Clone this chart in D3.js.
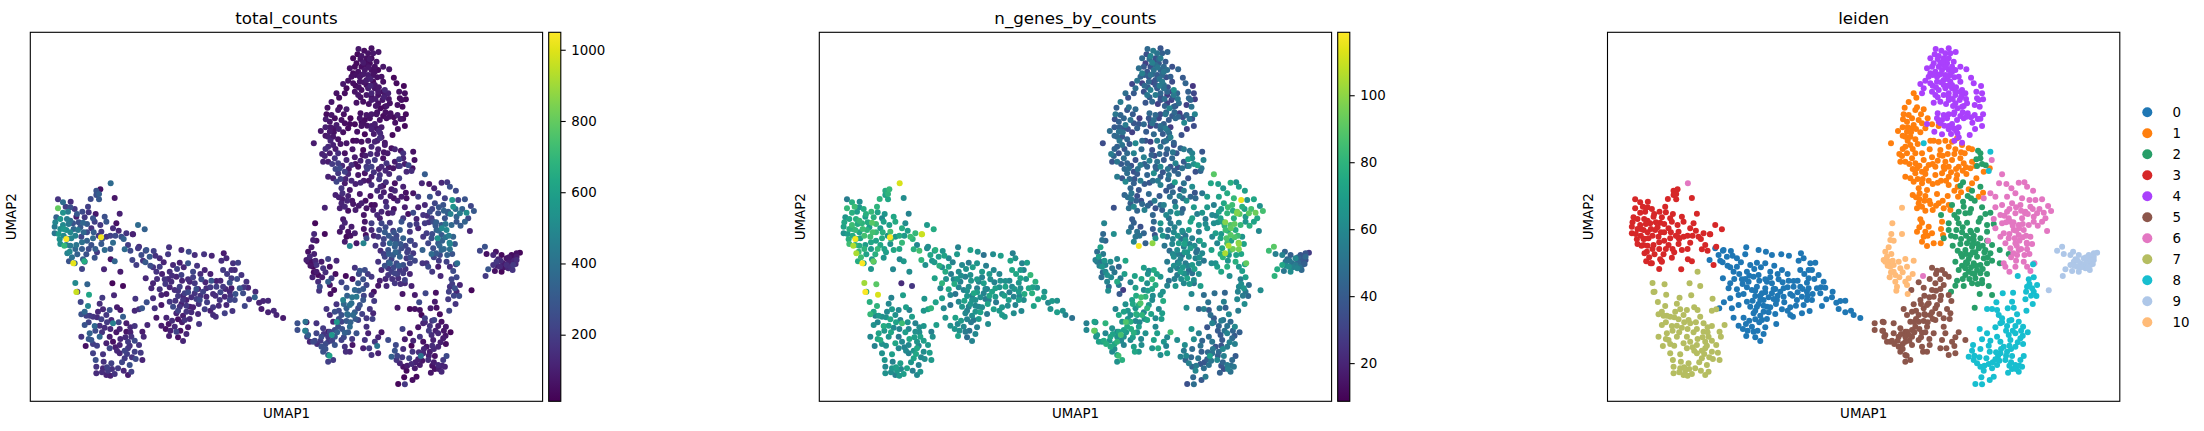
<!DOCTYPE html>
<html><head><meta charset="utf-8">
<style>html,body{margin:0;padding:0;background:#fff}svg{display:block}text{font-family:"DejaVu Sans";fill:#000}</style>
<script src="https://cdn.jsdelivr.net/npm/d3@7/dist/d3.min.js"></script>
</head><body><svg id="c" width="2204" height="431"></svg>
<script>
const cluster0=[[323,648,190,60],[348,653,280,78],[370,656,210,66],[416,645,160,58],[453,653,130,72],[475,658,240,64],[493,668,150,50],[521,666,170,62],[544,670,120,70],[580,663,90,56],[413,666,180,68],[333,668,250,74],[358,673,300,70],[306,683,220,80],[338,685,170,66],[388,678,140,60],[573,685,150,73],[588,678,130,64],[623,691,210,70],[608,693,160,58],[388,703,190,72],[428,698,130,60],[473,693,280,66],[448,691,110,54],[378,718,170,76],[418,718,150,62],[488,718,230,68],[523,713,120,60],[578,713,190,74],[613,713,140,58],[633,728,170,82],[453,728,210,64],[346,738,130,72],[403,741,170,60],[438,733,120,56],[473,741,150,68],[513,741,240,62],[603,738,190,72],[368,753,120,80],[423,748,140,58],[493,753,180,70],[558,746,110,64],[598,751,260,66],[648,748,170,78],[363,768,130,60],[388,771,160,74],[448,763,200,62],[473,768,110,56],[528,768,150,70],[578,763,180,60],[628,768,290,74],[653,766,120,64],[408,785,90,52],[368,798,150,70],[393,788,110,60],[443,791,190,66],[493,783,170,58],[518,778,210,72],[548,785,140,62],[598,778,130,68],[638,783,250,78],[675,778,140,66],[349,810,260,72],[418,808,180,60],[468,803,120,64],[508,803,240,56],[568,803,170,70],[613,803,230,62],[656,801,170,74],[673,795,330,70],[686,811,110,60],[713,805,130,64],[698,806,120,68],[335,828,290,80],[373,828,160,60],[393,818,80,52],[448,823,170,58],[488,825,110,62],[548,825,180,66],[588,818,130,58],[643,821,230,72],[523,831,200,70],[693,830,90,64],[438,843,120,60],[468,838,170,66],[503,845,130,54],[548,848,140,68],[583,843,210,62],[606,836,170,60],[713,840,110,70],[730,835,130,64],[738,848,120,58],[758,857,90,50],[378,856,80,66],[408,856,120,72],[443,861,60,58],[463,863,160,52],[556,853,150,68],[393,880,90,64],[433,883,130,60],[473,885,80,56],[506,875,170,62],[406,890,60,66],[438,898,220,54],[468,905,130,60],[416,911,100,72],[443,915,60,48],[458,926,120,58],[463,783,200,74],[478,748,130,60],[458,803,170,64],[433,773,150,58],[528,793,120,68],[558,763,210,72],[603,768,90,62],[478,823,100,60],[428,823,240,66],[583,793,130,58],[598,803,220,70],[503,770,110,56],[543,745,290,64],[413,740,130,68],[346,655,220,66],[368,705,170,62],[603,713,150,68]];
const cluster1=[[918,183,60,48],[926,196,50,36],[903,209,80,54],[891,226,60,42],[928,225,40,50],[923,233,70,38],[948,231,90,46],[940,246,55,40],[888,246,40,52],[903,248,70,44],[886,261,90,36],[913,258,50,44],[933,263,60,50],[960,258,30,28],[898,268,70,42],[918,278,90,54],[943,273,50,38],[973,276,40,46],[993,281,65,30],[885,285,100,40],[871,296,75,48],[913,288,60,36],[953,288,45,42],[898,298,85,50],[938,300,55,30],[893,313,95,46],[908,313,80,38],[923,321,60,44],[850,333,90,34],[968,325,40,46],[978,325,55,36],[893,343,130,42],[908,338,110,50],[930,335,70,38],[1013,325,80,54],[993,328,60,30],[1033,328,120,42],[1048,318,150,38],[966,351,75,46],[998,353,40,36],[1023,343,130,50],[1043,351,110,44],[1063,338,90,34],[1083,348,60,42],[1093,351,120,54],[1071,363,80,38],[923,363,150,46],[943,363,60,58],[898,363,90,36],[883,371,120,44],[913,378,170,48],[878,388,110,38],[893,388,90,52],[923,393,200,44],[948,383,130,36],[973,375,90,56],[996,368,60,42],[1013,388,170,50],[1033,383,190,40],[1058,378,60,46],[1068,393,170,58],[1093,388,90,40],[1008,403,180,42],[963,398,150,54],[928,408,240,48],[943,418,210,36],[983,403,60,44],[1023,403,210,60],[1053,403,130,38],[1088,408,70,50],[1103,401,120,44],[1146,408,60,52],[1128,418,130,36],[923,423,180,48],[953,425,130,40],[893,433,110,54],[908,438,100,38],[983,428,80,44],[1003,423,70,62],[1023,433,110,40],[1048,428,160,50],[1076,425,130,44],[1106,438,200,36],[918,448,230,60],[943,453,90,42],[963,445,130,54],[990,451,120,38],[1046,441,180,46],[1093,453,60,50],[933,468,170,44],[958,473,80,38],[1023,458,150,56],[1050,463,120,42],[1083,471,90,36],[915,488,110,44],[936,483,150,52],[953,491,110,36],[988,485,80,46],[1020,491,60,40],[1051,493,120,50],[1113,493,90,44],[1126,481,60,38],[933,513,120,42],[968,515,70,46],[943,523,130,60],[993,513,100,38],[928,528,110,50],[953,535,60,44],[975,533,90,56],[1008,528,70,36],[1028,533,90,42],[1023,518,50,48],[938,561,80,40],[928,598,70,54],[943,571,120,42],[963,583,90,36],[953,598,60,50],[973,603,100,44],[943,628,90,58],[958,641,480,117],[978,633,80,42],[999,633,480,100],[1006,608,60,38],[948,613,40,52],[1003,568,80,46]];
const cluster2=[[1111,355,70,50],[1118,363,160,58],[1106,381,210,70],[1118,378,130,62],[1108,401,170,56],[1123,395,90,64],[1134,399,240,72],[1066,450,150,70],[1058,460,60,42],[1118,463,110,62],[1093,475,130,54],[1080,491,90,58],[1090,498,60,48],[1101,505,110,64],[1066,508,130,46],[1033,518,60,56],[1068,523,170,62],[1123,525,100,68],[1090,530,60,42],[1053,538,120,58],[1073,543,80,64],[1086,541,130,48],[1148,541,250,66],[1133,545,60,56],[1000,548,70,44],[1040,548,130,60],[1118,558,180,70],[1048,558,100,50],[1023,573,200,66],[1053,573,230,54],[1078,571,180,60],[1113,568,280,72],[1138,578,230,68],[1158,575,180,62],[1023,593,130,58],[1046,593,240,50],[1088,595,170,62],[1108,593,300,70],[1138,598,170,56],[1008,618,250,64],[1043,613,180,52],[1058,635,210,60],[1098,623,260,68],[1118,618,330,58],[1138,625,240,50],[1153,638,210,66],[1050,655,150,48],[1073,653,280,62],[1093,643,320,56],[1113,648,250,70],[1133,653,200,50],[1148,663,180,60],[1176,653,330,72],[1203,665,370,76],[1043,688,170,54],[1063,673,220,62],[1088,668,300,50],[1108,673,340,64],[1128,678,190,58],[1053,713,130,56],[1078,693,340,62],[1098,693,250,54],[1118,698,260,68],[1138,693,210,60],[1153,685,230,52],[1176,693,170,62],[1083,718,200,70],[1108,713,180,48],[1138,725,120,64],[1073,728,170,54],[1103,738,150,72],[1123,743,210,62],[1048,745,100,50],[1093,753,180,60],[1043,760,70,58],[1068,761,130,66],[1143,761,110,70],[1123,753,140,52],[1030,778,60,64],[1116,785,70,60],[1153,788,90,48],[1101,826,80,62],[1090,600,280,54],[1063,600,310,60],[1098,610,240,52],[1078,633,380,70],[1103,660,290,66],[1083,680,220,58],[1063,700,260,62],[1118,723,190,50],[1093,723,220,64],[1073,708,170,56]];
const cluster3=[[210,471,60,82],[198,475,280,76],[206,485,320,80],[198,488,260,72],[253,497,70,62],[83,501,170,55],[181,500,240,80],[206,501,300,74],[98,510,380,78],[121,508,150,62],[106,523,210,84],[173,523,210,80],[83,528,800,82],[133,530,180,76],[113,538,450,70],[98,541,540,78],[156,538,240,82],[268,544,110,58],[196,545,80,66],[223,553,260,74],[78,555,330,66],[138,553,100,70],[163,555,180,78],[188,558,280,60],[73,583,430,72],[98,578,500,84],[128,573,280,80],[158,571,350,90],[193,568,210,72],[228,568,290,76],[258,573,60,62],[323,578,370,68],[343,591,330,76],[73,603,410,64],[108,593,520,82],[143,593,430,80],[183,588,160,70],[213,598,180,86],[248,588,140,76],[288,603,170,82],[308,606,110,110],[88,621,540,78],[123,618,480,72],[153,613,230,84],[188,618,360,76],[228,613,170,66],[273,613,260,84],[108,620,1045,117],[212,615,1030,118],[111,619,480,78],[108,638,450,80],[138,638,420,70],[183,638,270,74],[213,635,300,64],[248,631,370,82],[293,638,200,60],[283,651,370,78],[300,655,240,86],[326,643,150,62],[118,658,500,82],[102,640,700,105],[111,663,470,105],[141,666,330,72],[168,666,270,78],[193,676,280,66],[223,653,370,74],[158,681,320,68],[116,687,280,76],[133,693,340,70],[129,693,1010,118],[162,687,650,92],[241,681,70,60],[253,687,350,68],[163,688,280,74],[318,698,200,64],[155,710,220,66],[221,711,120,60],[120,565,380,82],[145,570,260,76],[170,575,310,84],[110,560,450,78],[90,560,560,74],[160,600,360,86],[210,578,180,70],[100,610,500,76],[215,620,260,82],[155,630,390,74],[255,610,240,68],[307,606,90,110]];
const cluster4=[[984,50,80,46],[1023,48,60,38],[1001,55,50,54],[1044,59,70,44],[981,66,40,36],[1013,63,65,50],[1028,63,80,42],[968,78,40,46],[993,71,70,58],[1008,78,55,36],[1023,78,45,54],[1038,88,75,40],[958,108,60,48],[978,93,40,30],[998,91,85,56],[1018,93,50,40],[1033,103,60,46],[1058,103,75,36],[1076,111,70,44],[968,123,45,56],[983,118,60,38],[1003,113,80,50],[1023,113,55,42],[1043,113,40,48],[1090,136,35,40],[953,145,60,52],[968,153,50,30],[988,148,70,46],[1008,143,90,38],[1028,148,45,54],[1053,133,65,42],[1058,148,55,34],[1098,153,40,44],[938,155,80,32],[948,168,40,48],[973,178,65,36],[993,173,50,56],[1013,168,95,40],[1033,168,70,50],[1058,178,60,32],[1073,183,110,44],[1120,161,35,26],[1106,178,65,42],[1123,183,55,32],[943,183,50,40],[983,188,70,52],[1023,183,120,44],[1043,188,60,28],[1063,188,85,54],[1108,198,45,46],[1126,201,40,28],[978,211,60,38],[998,208,55,46],[1023,203,90,36],[1056,203,70,30],[1113,203,50,44],[1078,213,60,48],[1036,221,75,42],[1050,228,45,58],[1068,221,70,36],[1101,218,60,30],[1116,223,40,50],[990,243,55,46],[1023,246,80,34],[1038,246,65,52],[1058,251,40,40],[1080,243,60,28],[1101,248,90,44],[1126,246,45,58],[988,258,70,38],[1003,263,50,48],[1018,258,65,32],[1068,258,55,46],[1118,259,50,36],[998,273,60,50],[1033,275,100,42],[1053,285,85,28],[1094,271,55,60],[1123,281,40,34],[1023,291,110,44],[1038,288,80,54],[980,298,60,40],[1003,306,35,46],[1102,290,55,30],[1086,308,40,36],[1049,303,130,46],[958,275,45,38],[1040,325,90,50],[1063,331,75,42],[1053,315,110,56],[975,128,60,42],[993,128,75,50],[1013,128,90,40],[1028,128,65,46],[988,133,70,38],[1008,98,60,48],[993,103,50,36],[1018,81,80,44],[1033,118,55,52],[1063,173,130,62],[1043,178,85,44],[1023,193,60,36],[1008,188,75,54],[973,103,45,40],[963,133,60,44],[1008,158,55,38],[1033,158,80,50],[1063,223,45,42],[1043,213,60,30],[1008,248,70,46],[993,268,40,34],[1023,281,95,48],[1048,263,60,40],[1076,253,55,44]];
const cluster5=[[973,706,170,70],[988,715,280,60],[1003,713,250,76],[1023,733,180,66],[966,740,60,74],[933,750,220,58],[998,741,260,82],[948,766,260,70],[983,753,300,64],[1008,758,220,76],[911,773,50,28],[973,773,350,60],[1023,788,130,66],[938,803,470,72],[978,793,430,80],[998,803,290,62],[1031,806,190,76],[918,816,170,64],[963,813,380,88],[888,830,170,58],[913,838,260,72],[948,828,330,66],[983,828,240,80],[1018,830,170,60],[898,848,140,74],[933,848,270,62],[968,848,370,80],[1028,843,130,70],[908,868,120,66],[919,869,560,88],[948,866,300,60],[983,863,220,74],[1008,858,180,62],[1026,860,210,70],[828,870,70,60],[825,868,400,72],[858,873,170,80],[878,888,190,64],[923,883,260,76],[958,883,370,70],[1008,883,160,60],[1053,900,70,84],[824,895,460,92],[893,898,90,60],[898,898,220,72],[943,901,330,78],[978,903,270,64],[1013,903,110,70],[833,908,320,68],[873,913,250,74],[913,913,280,62],[904,908,560,86],[1043,915,120,60],[848,928,240,66],[893,928,190,80],[933,923,210,60],[1003,923,170,72],[1033,928,180,66],[1073,923,250,62],[873,943,270,76],[913,938,280,58],[943,943,170,70],[966,938,70,62],[998,948,110,66],[1016,948,190,76],[1040,941,420,58],[878,958,260,60],[946,958,150,74],[958,958,130,68],[893,968,300,72],[897,970,600,84],[1023,968,160,62],[1043,963,110,70],[908,983,190,78],[893,988,210,64],[801,873,270,56],[801,893,260,60],[826,895,200,76],[830,913,210,62],[838,928,120,72],[958,818,390,76],[953,848,340,70],[973,840,320,60],[933,868,220,78],[953,900,300,66],[913,893,240,72],[893,913,180,64],[858,903,220,60],[853,925,230,76],[988,818,280,68],[998,770,290,74]];
const cluster6=[[1152,383,60,58],[1183,426,310,90],[1174,453,130,74],[1196,455,70,70],[1233,451,130,78],[1250,450,180,64],[1258,463,260,72],[1211,468,110,66],[1148,483,70,52],[1163,493,200,70],[1223,483,170,76],[1276,475,240,70],[1128,498,60,46],[1198,493,280,72],[1243,498,210,82],[1265,503,560,115],[1283,503,220,66],[1303,501,280,74],[1183,518,130,56],[1163,525,100,68],[1213,513,230,74],[1238,518,280,84],[1268,523,540,78],[1321,521,230,64],[1198,538,250,70],[1178,548,170,60],[1223,543,270,80],[1253,538,310,96],[1288,543,430,90],[1330,536,300,86],[1308,541,520,94],[1158,560,120,54],[1203,558,200,72],[1243,558,280,78],[1278,553,340,68],[1313,558,240,74],[1183,573,190,62],[1208,568,250,70],[1233,578,300,88],[1263,578,360,82],[1278,568,290,66],[1303,568,340,72],[1163,588,120,66],[1188,603,200,70],[1218,593,320,84],[1248,593,500,76],[1318,596,120,60],[1178,613,180,60],[1203,618,260,72],[1233,608,300,90],[1268,613,340,66],[1141,625,180,72],[1193,633,230,60],[1223,633,300,86],[1258,635,480,100],[1273,635,300,72],[1208,648,260,74],[1233,653,350,82],[1258,651,390,96],[1228,668,240,66],[1250,668,330,72],[1221,618,540,88],[1234,588,500,92],[1257,631,480,98],[1227,640,350,105],[1217,663,300,105],[1217,570,320,98],[1252,543,300,98],[1248,688,210,78],[1280,693,390,92],[1188,693,170,64],[1223,703,90,78],[1193,703,240,70],[1258,703,150,68],[1205,718,180,74],[1268,716,250,70],[946,731,40,72],[241,453,370,112]];
const cluster7=[[270,718,90,62],[135,752,500,103],[171,756,340,90],[246,753,30,22],[278,761,40,26],[141,778,180,72],[138,779,960,118],[176,787,620,112],[251,789,130,70],[216,796,190,58],[315,799,170,66],[151,809,230,78],[208,814,150,60],[173,821,480,80],[218,831,130,68],[260,825,90,70],[163,838,350,74],[238,833,260,60],[270,833,80,56],[313,835,130,66],[153,846,280,82],[326,831,160,72],[188,853,170,62],[213,861,210,74],[243,863,130,58],[278,853,320,70],[163,878,280,64],[193,881,350,76],[223,886,150,60],[248,873,460,84],[288,873,90,58],[313,881,170,66],[351,878,130,70],[268,890,110,60],[288,898,70,64],[178,903,330,72],[153,913,170,60],[208,913,350,66],[238,913,90,54],[303,913,170,72],[336,898,90,56],[340,913,130,64],[183,923,280,76],[248,928,60,60],[293,928,190,66],[313,925,240,70],[166,941,60,58],[228,933,110,74],[268,938,120,60],[326,938,170,68],[188,963,210,64],[218,966,170,70],[238,948,230,60],[268,963,130,58],[293,948,180,74],[313,958,210,62],[331,961,190,70],[196,983,260,66],[220,988,160,58],[283,978,190,72],[316,980,240,62],[336,983,120,68],[198,1003,170,60],[243,993,210,70],[298,998,260,58],[218,1008,130,66],[263,1008,190,72],[198,1023,140,64],[228,1028,120,56],[253,1025,170,70],[293,1028,90,60],[303,1018,210,66],[178,850,190,68],[203,838,130,60],[228,848,180,64],[208,880,150,72],[168,850,210,58],[300,885,130,62],[258,900,80,70],[188,935,200,64],[298,940,160,58],[270,920,130,74],[283,955,220,66],[245,1010,160,60],[233,1015,190,68]];
const cluster8=[[948,333,70,60],[1148,358,60,38],[1143,416,150,44],[1276,696,220,74],[1230,731,130,62],[1263,741,230,56],[1278,735,240,70],[1288,758,120,48],[1258,763,170,60],[1273,768,260,66],[1278,778,130,52],[1255,778,210,58],[1286,791,250,46],[1216,781,60,44],[1185,783,230,48],[1253,801,190,60],[1213,808,90,56],[1166,810,240,50],[1275,815,170,62],[1138,830,40,44],[1153,830,60,56],[1168,833,60,40],[1200,828,100,52],[1218,826,60,42],[1256,835,220,54],[1173,848,30,48],[1228,846,50,60],[1183,858,200,40],[1211,863,220,50],[1233,868,60,46],[1178,873,120,58],[1198,881,170,44],[1223,881,100,50],[1246,883,80,60],[1163,885,60,38],[1116,890,210,66],[1260,900,30,42],[1138,903,60,56],[1168,913,170,48],[1203,908,140,40],[1223,903,130,58],[1238,918,90,46],[1123,921,90,62],[1148,925,120,44],[1178,928,60,52],[1208,923,110,40],[1246,935,50,56],[1143,940,30,50],[1188,943,80,38],[1223,943,120,54],[1096,938,240,62],[1118,950,150,48],[1093,955,280,54],[1198,958,90,46],[1146,958,170,42],[1178,963,130,50],[1171,971,400,70],[1213,971,60,56],[1248,971,240,40],[1083,973,330,58],[1098,983,170,44],[1136,978,220,52],[1163,981,110,42],[1193,983,140,60],[1238,983,190,46],[1108,993,120,56],[1143,995,140,38],[1168,998,90,50],[1223,998,130,54],[1118,1003,60,44],[1153,1008,90,48],[1213,1010,60,36],[1243,1003,110,52],[1128,1015,40,60],[1201,1021,70,42],[1233,1018,130,50],[1158,1033,40,54],[1121,1035,30,46],[1146,1043,50,40],[1103,1055,30,36],[1123,1056,180,48]];
const cluster9=[[1363,643,270,90],[1348,655,230,84],[1368,665,60,56],[1396,658,70,44],[1388,668,130,58],[1413,668,40,42],[1458,663,60,38],[1468,661,30,28],[1428,678,70,60],[1403,681,120,46],[1443,681,60,40],[1458,683,150,34],[1388,698,170,74],[1418,693,90,50],[1448,698,190,42],[1393,716,60,52],[1373,711,290,76],[1413,718,30,62],[1433,708,130,58],[1446,713,170,46],[1365,731,190,80],[1323,774,30,62],[1398,688,180,52],[1458,673,90,46],[1443,668,50,38],[1428,698,150,54],[1408,703,130,64]];
const cluster10=[[883,526,110,36],[854,573,30,58],[851,605,130,46],[883,605,40,62],[848,623,100,50],[858,625,60,44],[843,645,80,72],[833,658,60,48],[851,665,110,54],[893,680,220,60],[918,685,130,74],[828,683,100,56],[843,688,60,50],[873,688,90,62],[848,703,30,66],[878,708,170,52],[898,703,60,44],[858,718,90,60],[915,725,50,70],[846,735,110,48],[863,728,40,64],[903,738,190,54],[893,748,330,76],[863,748,150,58],[868,763,240,48],[866,775,170,62],[898,758,70,54],[900,785,60,40],[838,673,130,70],[833,688,60,52],[858,698,170,58]];
// Further points read from the dense interiors of the clusters
const dense0=[[443,775,170,64],[458,790,130,58],[473,780,240,70],[483,795,150,62],[498,800,200,54],[453,815,110,66],[468,820,180,60],[483,840,140,72],[443,835,210,56],[458,850,100,62],[478,860,130,68],[498,770,260,60],[510,790,170,74],[525,750,120,58],[540,765,190,64],[555,790,150,70],[570,780,230,56],[585,770,130,66],[600,790,170,60],[615,785,280,76],[565,820,140,62],[540,835,110,68],[530,810,200,54],[505,815,160,72],[418,765,120,60],[405,755,180,76],[380,740,150,64],[395,725,110,56],[360,700,250,78],[345,690,300,68],[375,670,160,72],[400,690,120,58],[440,710,210,64],[460,705,130,70],[500,700,170,56],[510,725,140,68],[540,725,110,60],[590,725,190,74],[620,740,240,66],[570,745,130,60],[640,765,180,70],[425,730,150,62],[488,735,200,58],[455,745,120,66],[435,805,170,72],[455,870,90,54],[425,865,140,68],[415,875,70,60],[420,895,110,64],[450,895,60,50]];
const dense1=[[900,285,80,42],[910,300,60,50],[925,290,100,36],[885,310,70,46],[900,325,120,52],[915,350,90,38],[885,350,150,44],[875,365,110,54],[905,395,190,40],[915,410,230,46],[935,400,130,36],[955,410,80,50],[975,395,60,42],[990,385,110,56],[1005,370,90,34],[1020,365,140,46],[1040,365,110,40],[1060,360,70,52],[1010,410,200,44],[1030,420,160,38],[1045,410,90,50],[1065,415,130,42],[1075,405,80,36],[1000,445,90,48],[1015,445,70,54],[975,455,110,40],[930,440,210,46],[945,440,120,38],[935,500,90,52],[950,505,130,42],[965,505,70,36],[925,495,110,48],[985,520,80,44],[1005,505,60,54],[1040,475,140,38],[1060,480,100,46],[1000,590,70,40],[960,610,60,50],[935,585,110,44]];
const dense2=[[1065,585,250,58],[1075,610,300,66],[1085,620,260,50],[1095,635,340,72],[1110,635,290,56],[1125,640,220,62],[1075,665,310,54],[1095,660,350,68],[1060,665,200,60],[1075,690,280,52],[1090,705,240,66],[1105,700,310,58],[1125,710,170,70],[1100,725,200,54],[1085,740,160,62],[1065,740,130,56],[1110,755,150,68],[1130,660,210,50],[1140,675,250,64],[1060,620,230,58],[1035,640,170,52],[1030,610,120,66]];
const dense3=[[75,570,480,74],[100,590,560,80],[115,575,430,76],[130,590,350,84],[150,585,300,70],[170,600,240,82],[190,600,310,78],[205,610,180,66],[120,600,500,74],[135,610,470,86],[170,625,330,72],[90,590,520,78],[85,605,570,70],[90,635,520,84],[120,640,440,76],[135,650,360,80],[155,650,310,68],[175,650,250,82],[195,650,320,72],[240,610,210,76],[265,595,130,70],[175,540,170,72],[140,545,300,78],[120,525,260,66],[280,620,330,80],[240,650,280,74],[125,675,400,84],[200,660,190,70]];
const dense4=[[990,80,65,48],[1005,88,50,36],[1015,105,75,52],[1000,125,85,44],[1040,135,60,36],[1020,140,110,50],[1000,150,70,32],[975,160,45,46],[985,165,60,40],[1020,160,120,54],[1045,165,80,36],[1035,200,95,48],[1015,215,55,30],[990,195,60,42],[1060,195,110,38],[1075,200,75,52],[1040,240,60,44],[1090,255,45,34],[1110,260,70,48],[1010,280,65,36],[1045,295,120,50],[1030,305,90,40],[1065,240,55,46]];
const dense5=[[925,835,240,66],[940,815,360,74],[965,795,420,84],[985,775,310,70],[1000,790,220,62],[950,845,380,78],[975,860,300,64],[995,845,210,72],[960,870,340,60],[935,890,280,76],[920,900,330,68],[905,925,220,60],[885,935,250,74],[870,925,190,66],[885,950,270,62],[860,935,160,78],[940,915,240,70],[965,920,190,60],[880,905,170,72],[925,860,260,66],[950,790,330,76],[985,725,230,64],[1012,725,190,72]];
const dense6=[[1205,530,220,68],[1225,525,290,84],[1240,535,340,76],[1260,545,470,90],[1275,530,390,72],[1295,530,330,86],[1195,570,170,64],[1215,580,300,80],[1245,575,420,92],[1225,595,360,74],[1205,605,250,68],[1245,615,400,88],[1290,580,310,78],[1255,610,450,84],[1235,625,330,70],[1210,675,220,80],[1240,650,360,94],[1265,665,280,74],[1225,685,190,66],[1190,550,150,60]];
const dense7=[[200,855,150,64],[230,870,190,72],[175,870,220,60],[195,895,250,68],[215,900,170,74],[240,890,130,58],[265,870,230,66],[300,900,110,62],[285,915,140,70],[255,945,90,58],[290,965,200,74],[305,975,170,60],[275,990,230,66],[280,1015,130,56],[230,1005,210,70],[215,1020,150,62],[240,1030,110,68],[260,955,130,60],[175,920,300,74],[200,940,210,64]];
const dense8=[[1183,870,130,46],[1205,865,160,54],[1195,895,190,40],[1215,895,110,50],[1240,895,70,44],[1230,930,100,56],[1205,940,140,38],[1180,950,120,52],[1195,970,110,42],[1210,950,130,60],[1165,960,150,46],[1155,990,110,38],[1175,985,70,52],[1210,990,90,44],[1225,1010,100,56],[1205,1000,60,38],[1235,1000,120,48],[1265,755,200,62],[1270,790,230,54],[1100,970,230,60],[1115,975,180,46],[1130,1000,90,54],[1245,910,70,40]];
const dense9=[[1435,690,100,46],[1450,685,120,38],[1420,705,70,56],[1435,675,80,44],[1410,685,140,52],[1400,700,110,60],[1455,695,130,42],[1440,705,150,50]];
const dense10=[[840,700,70,56],[855,685,130,66],[850,720,50,46],[875,735,90,60],[885,720,140,52]];
const clusterNames=["0","1","2","3","4","5","6","7","8","9","10"];
const clusterPoints=[cluster0.concat(dense0),cluster1.concat(dense1),cluster2.concat(dense2),cluster3.concat(dense3),cluster4.concat(dense4),cluster5.concat(dense5),cluster6.concat(dense6),cluster7.concat(dense7),cluster8.concat(dense8),cluster9.concat(dense9),cluster10.concat(dense10)];
const clusterColors=["#1f77b4","#ff7f0e","#279e68","#d62728","#aa40fc","#8c564b","#e377c2","#b5bd61","#17becf","#aec7e8","#ffbb78"];
const panelTitles=["total_counts","n_genes_by_counts","leiden"];
const panelLefts=[30.3,819.3,1607.5];
const countTicks=[200,400,600,800,1000], countExtent=[13,1049];
const geneTicks=[20,40,60,80,100], geneExtent=[8.6,118.8];

const svg=d3.select("#c");
const topY=32.3,bottomY=401.3,pw=512.3;
const F={title:16.7,label:13.4,tick:13.4};
const points=clusterPoints.flatMap((c,i)=>c.map(p=>({x:p[0],y:p[1],tc:p[2],ng:p[3],cl:i})));
const defs=svg.append("defs");

function frame(left,title){
  const g=svg.append("g");
  svg.append("rect").attr("x",left).attr("y",topY).attr("width",pw).attr("height",bottomY-topY).attr("fill","none").attr("stroke","#000").attr("stroke-width",1.1);
  svg.append("text").attr("x",left+pw/2).attr("y",23.5).attr("text-anchor","middle").attr("font-size",F.title).text(title);
  svg.append("text").attr("x",left+pw/2).attr("y",418).attr("text-anchor","middle").attr("font-size",F.label).text("UMAP1");
  svg.append("text").attr("transform",`translate(${left-14.5},${(topY+bottomY)/2}) rotate(-90)`).attr("text-anchor","middle").attr("font-size",F.label).text("UMAP2");
  return g;
}
function scatter(g,left,rows,color){
  const x=d3.scaleLinear().domain([0,1536]).range([left,left+pw]);
  const y=d3.scaleLinear().domain([0,1107]).range([topY,bottomY]);
  g.selectAll("circle").data(rows).join("circle")
    .attr("cx",d=>x(d.x)).attr("cy",d=>y(d.y)).attr("r",3).attr("fill",color);
}
function colorbar(left,extent,ticks,id){
  const bx=left+pw+6.1,bw=12.1;
  const grad=defs.append("linearGradient").attr("id",id).attr("x1",0).attr("x2",0).attr("y1",1).attr("y2",0);
  d3.range(0,1.0001,0.05).forEach(t=>grad.append("stop").attr("offset",t).attr("stop-color",d3.interpolateViridis(t)));
  svg.append("rect").attr("x",bx).attr("y",topY).attr("width",bw).attr("height",bottomY-topY).attr("fill",`url(#${id})`).attr("stroke","#000").attr("stroke-width",1.1);
  const s=d3.scaleLinear().domain(extent).range([bottomY,topY]);
  const a=svg.append("g").attr("transform",`translate(${bx+bw},0)`).call(d3.axisRight(s).tickValues(ticks).tickSize(4.9).tickPadding(5.5).tickFormat(d3.format("d")));
  a.select(".domain").remove();
  a.selectAll("line").attr("stroke","#000").attr("stroke-width",1.1);
  a.selectAll("text").attr("font-size",F.tick).attr("font-family","DejaVu Sans").attr("fill","#000");
}
// total_counts
const cTC=d3.scaleSequential(d3.interpolateViridis).domain(countExtent);
scatter(frame(panelLefts[0],panelTitles[0]),panelLefts[0],d3.sort(points,d=>d.tc),d=>cTC(d.tc));
colorbar(panelLefts[0],countExtent,countTicks,"g1");
// n_genes_by_counts
const cNG=d3.scaleSequential(d3.interpolateViridis).domain(geneExtent);
scatter(frame(panelLefts[1],panelTitles[1]),panelLefts[1],d3.sort(points,d=>d.ng),d=>cNG(d.ng));
colorbar(panelLefts[1],geneExtent,geneTicks,"g2");
// leiden
const cL=d3.scaleOrdinal().domain(d3.range(clusterNames.length)).range(clusterColors);
scatter(frame(panelLefts[2],panelTitles[2]),panelLefts[2],points,d=>cL(d.cl));
const lx=d3.scalePoint().domain(clusterNames).range([112.3,322.3]);
const leg=svg.append("g").selectAll("g").data(clusterNames).join("g").attr("transform",d=>`translate(2147.3,${lx(d)})`);
leg.append("circle").attr("r",5).attr("fill",(d,i)=>clusterColors[i]);
leg.append("text").attr("x",25.3).attr("y",4.9).attr("font-size",F.tick).text(d=>d);
</script></body></html>
